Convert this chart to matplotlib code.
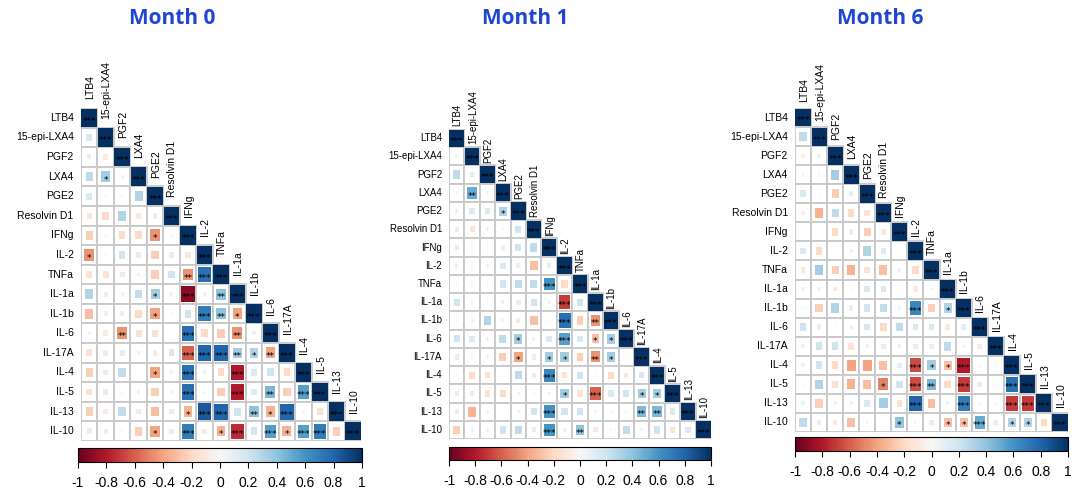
import numpy as np
import matplotlib
matplotlib.use("Agg")
import matplotlib.pyplot as plt
from matplotlib.patches import Rectangle
from matplotlib.colors import Normalize
from matplotlib.colorbar import ColorbarBase

# variables (same order on both axes)
labels = ["LTB4", "15-epi-LXA4", "PGF2", "LXA4", "PGE2", "Resolvin D1", "IFNg",
          "IL-2", "TNFa", "IL-1a", "IL-1b", "IL-6", "IL-17A", "IL-4", "IL-5",
          "IL-13", "IL-10"]

# lower triangle, row i holds correlations with columns 0..i-1
r_m0 = [
    [],
    [0.15],
    [-0.08, -0.1],
    [0.25, 0.35, -0.05],
    [0.15, 0.02, 0.02, 0.3],
    [-0.1, -0.2, 0.3, -0.1, -0.1],
    [-0.25, 0.02, -0.2, -0.2, -0.45, 0.02],
    [-0.45, -0.02, 0.2, 0.1, -0.25, 0.1, -0.12],
    [-0.15, -0.15, 0.1, 0.05, -0.25, 0.2, -0.45, 0.75],
    [0.3, -0.08, 0.05, 0.25, 0.35, 0.05, -0.9, 0.05, 0.4],
    [-0.3, 0.08, 0.08, -0.2, -0.4, 0.02, 0.2, 0.7, 0.4, -0.4],
    [-0.05, -0.1, -0.45, -0.15, -0.15, 0.0, 0.75, -0.2, -0.25, -0.45, 0.05],
    [-0.15, -0.1, 0.1, 0.05, -0.1, 0.15, -0.6, 0.8, 0.8, 0.35, 0.3, -0.4],
    [-0.25, 0.1, 0.25, 0.0, -0.4, 0.05, 0.75, 0.05, -0.2, -0.8, 0.15, 0.2, -0.2],
    [-0.15, 0.1, 0.03, 0.05, -0.25, 0.05, 0.75, 0.03, -0.25, -0.8, 0.15, 0.45, -0.25, 0.55],
    [-0.25, -0.1, 0.25, 0.1, -0.3, 0.1, -0.35, 0.85, 0.8, 0.2, 0.4, -0.35, 0.8, 0.02, -0.15],
    [-0.1, -0.08, -0.03, -0.25, -0.4, -0.08, 0.7, -0.08, -0.35, -0.75, 0.2, 0.55, -0.35, 0.55, 0.7, -0.25],
]

r_m1 = [
    [],
    [0.05],
    [0.25, 0.1],
    [0.03, 0.5, 0.03],
    [0.05, 0.15, 0.15, 0.3],
    [-0.1, -0.12, 0.05, 0.02, 0.2],
    [0.1, 0.02, 0.02, 0.08, 0.2, 0.25],
    [0.05, 0.02, 0.05, 0.15, -0.08, -0.3, 0.1],
    [0.02, 0.03, 0.02, 0.2, 0.25, 0.25, 0.6, -0.2],
    [0.2, 0.03, 0.02, 0.05, 0.1, 0.2, -0.05, -0.7, 0.2],
    [0.02, 0.05, 0.3, -0.05, -0.08, -0.3, 0.02, 0.75, -0.25, -0.45],
    [0.2, 0.15, 0.05, 0.25, 0.35, 0.05, 0.15, 0.55, 0.15, -0.3, 0.35],
    [0.1, 0.02, -0.05, -0.25, -0.4, -0.1, 0.35, 0.35, -0.25, -0.45, 0.35, 0.03],
    [0.02, -0.2, -0.15, 0.0, 0.25, 0.1, 0.65, -0.15, 0.2, 0.02, -0.2, -0.1, 0.15],
    [0.08, -0.1, -0.15, -0.2, 0.03, 0.02, 0.05, 0.35, -0.15, -0.6, 0.15, 0.2, 0.35, 0.35],
    [0.1, -0.35, 0.05, 0.0, 0.05, 0.2, 0.6, 0.2, 0.2, -0.05, 0.03, 0.03, 0.45, 0.45, 0.15],
    [-0.25, 0.05, 0.05, 0.2, 0.25, -0.1, 0.6, 0.05, 0.4, -0.1, 0.03, 0.25, 0.03, 0.2, -0.15, 0.15],
]

r_m6 = [
    [],
    [0.25],
    [-0.05, 0.05],
    [-0.03, 0.02, 0.35],
    [0.15, 0.02, -0.25, 0.1],
    [-0.05, -0.35, 0.25, -0.2, -0.15],
    [0.0, 0.02, -0.2, -0.1, -0.25, -0.1],
    [0.15, -0.2, 0.0, 0.05, 0.3, 0.15, 0.0],
    [-0.1, 0.35, -0.25, -0.35, -0.15, -0.3, 0.05, -0.2],
    [-0.05, -0.05, -0.08, 0.02, 0.15, 0.15, -0.02, -0.1, 0.02],
    [0.02, -0.25, 0.3, 0.1, 0.2, 0.25, -0.05, 0.65, -0.25, 0.3],
    [0.2, -0.1, 0.02, 0.05, 0.15, -0.2, 0.25, 0.15, 0.15, -0.1, 0.1],
    [0.05, 0.2, 0.2, -0.15, -0.05, 0.1, 0.05, -0.1, -0.1, 0.25, 0.03, -0.1],
    [0.05, 0.2, -0.2, -0.4, -0.4, -0.3, 0.1, -0.65, 0.35, -0.3, -0.8, 0.02, 0.02],
    [0.02, 0.3, -0.15, -0.35, -0.3, -0.5, 0.2, -0.65, 0.45, -0.2, -0.7, 0.1, 0.02, 0.75],
    [0.05, -0.25, 0.05, 0.05, 0.15, 0.35, -0.15, 0.8, -0.3, 0.05, 0.7, 0.02, 0.02, -0.7, -0.7],
    [0.25, -0.1, -0.1, -0.3, 0.02, 0.0, 0.4, 0.02, 0.1, -0.3, -0.3, 0.5, -0.1, 0.3, 0.3, -0.2],
]

# significance stars off the diagonal: (row, col, number of stars)
stars_m0 = [(3, 1, 1), (6, 4, 1), (7, 0, 1), (8, 6, 2), (8, 7, 3),
            (9, 4, 1), (9, 6, 3), (9, 8, 2), (10, 4, 1), (10, 7, 3), (10, 8, 2), (10, 9, 1),
            (11, 2, 2), (11, 6, 3), (11, 9, 2),
            (12, 6, 3), (12, 7, 3), (12, 8, 3), (12, 9, 2), (12, 10, 1), (12, 11, 2),
            (13, 4, 1), (13, 6, 3), (13, 9, 3),
            (14, 6, 3), (14, 9, 3), (14, 11, 2), (14, 13, 3),
            (15, 6, 1), (15, 7, 3), (15, 8, 3), (15, 10, 2), (15, 11, 1), (15, 12, 3),
            (16, 4, 1), (16, 6, 3), (16, 8, 1), (16, 9, 3), (16, 11, 3), (16, 12, 1),
            (16, 13, 3), (16, 14, 3)]

stars_m1 = [(3, 1, 2), (4, 3, 1), (8, 6, 3), (9, 7, 3), (10, 7, 3), (10, 9, 2),
            (11, 4, 1), (11, 7, 3), (11, 9, 1), (11, 10, 1),
            (12, 4, 1), (12, 6, 1), (12, 7, 1), (12, 9, 2), (12, 10, 1),
            (13, 6, 3), (14, 7, 1), (14, 9, 3), (14, 12, 1), (14, 13, 1),
            (15, 6, 3), (15, 12, 2), (15, 13, 2), (16, 6, 3), (16, 8, 2)]

stars_m6 = [(10, 7, 3), (10, 9, 1),
            (13, 7, 3), (13, 8, 1), (13, 9, 1), (13, 10, 3),
            (14, 5, 1), (14, 7, 3), (14, 8, 2), (14, 10, 3), (14, 13, 3),
            (15, 7, 3), (15, 10, 3), (15, 13, 3), (15, 14, 3),
            (16, 6, 1), (16, 9, 1), (16, 10, 1), (16, 11, 3), (16, 13, 1), (16, 14, 1)]

titles = ["Month 0", "Month 1", "Month 6"]
cbar_ticks = [-1, -0.8, -0.6, -0.4, -0.2, 0, 0.2, 0.4, 0.6, 0.8, 1]

W, H = 1072, 490
fig = plt.figure(figsize=(W / 100, H / 100), dpi=100)
cmap = plt.get_cmap("RdBu")
norm = Normalize(-1, 1)
lab_font = ["Liberation Sans", "DejaVu Sans"]


def px_axes(left, top, right, bottom):
    return fig.add_axes([left / W, 1 - bottom / H, (right - left) / W, (bottom - top) / H])


def corr_panel(ax, rows, stars, fs, col_gap):
    n = len(labels)
    star_map = {(i, j): k for i, j, k in stars}
    for i in range(n):
        vals = list(rows[i]) + [1.0]
        for j, v in enumerate(vals):
            ax.add_patch(Rectangle((j - 0.5, i - 0.5), 1, 1, facecolor="white",
                                   edgecolor="#c8c8c8", lw=1.3, zorder=1))
            s = np.sqrt(abs(v)) * 0.9 if i != j else 0.94
            ax.add_patch(Rectangle((j - s / 2, i - s / 2), s, s, facecolor=cmap(norm(v)),
                                   edgecolor="none", zorder=2))
            k = 3 if i == j else star_map.get((i, j), 0)
            if k:
                ax.text(j, i + 0.18, "*" * k, ha="center", va="center", fontsize=6.5,
                        color="black", zorder=3)
        ax.text(-0.95, i, labels[i], ha="right", va="center", fontsize=fs,
                family=lab_font, clip_on=False)
        ax.text(i + 0.05, i - 0.5 - col_gap, labels[i], ha="center", va="bottom", rotation=90,
                fontsize=fs, family=lab_font, clip_on=False)
    ax.set_xlim(-0.5, n - 0.5)
    ax.set_ylim(n - 0.5, -0.5)
    ax.axis("off")


def colorbar(cax):
    cb = ColorbarBase(cax, cmap=cmap, norm=norm, orientation="horizontal", ticks=cbar_ticks)
    cb.ax.set_xticklabels([f"{t:g}" for t in cbar_ticks])
    cb.ax.tick_params(labelsize=10, length=4, width=0.8, pad=6)
    for t in cb.ax.get_xticklabels():
        t.set_family(lab_font)
    cb.outline.set_linewidth(0.8)


grids = [(81, 108, 361, 441), (449, 129, 711, 439), (795, 108, 1068, 432)]
cbars = [(78, 448, 362, 462), (449, 447, 711, 460), (795, 437, 1068, 451)]
title_x = [172, 525, 880]
font_sizes = [7.5, 7.0, 7.5]
col_gaps = [0.45, 0.15, 0.3]

for rows, stars, g, c, tx, title, fs, cg in zip([r_m0, r_m1, r_m6],
                                                [stars_m0, stars_m1, stars_m6],
                                                grids, cbars, title_x, titles,
                                                font_sizes, col_gaps):
    ax = px_axes(*g)
    corr_panel(ax, rows, stars, fs, cg)
    colorbar(px_axes(*c))
    fig.text(tx / W, 1 - 19 / H, title, ha="center", va="center", fontsize=15,
             fontweight="bold", color="#1f45d6", family=["Open Sans", "DejaVu Sans"])

fig.savefig("out.png", dpi=100)
